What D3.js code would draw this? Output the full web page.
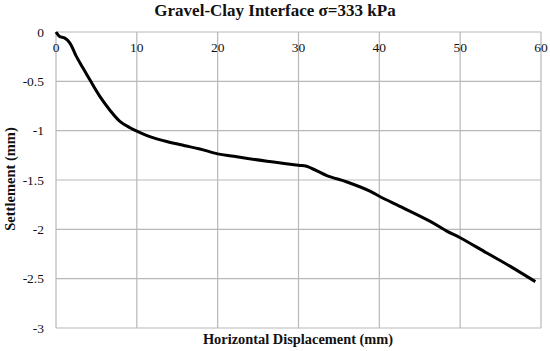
<!DOCTYPE html>
<html>
<head>
<meta charset="utf-8">
<script src="https://cdn.jsdelivr.net/npm/d3@7"></script>
<style>
  body { margin: 0; background: #fff; }
  text { font-family: "Liberation Serif", "Times New Roman", serif; fill: #111; }
</style>
</head>
<body>
<div id="viz"></div>
<script>
// chart size
const width = 550
const height = 351
const margin = {left: 56, top: 32, right: 9, bottom: 23}

const g_width = width - margin.left - margin.right;
const g_height = height - margin.top - margin.bottom;

// data
const dispX = [0, 0.45, 1.05, 1.7, 2.5, 3.3, 4.15, 5.4, 6.65, 7.9, 9.15, 10, 11.6, 13.7, 15.8, 17.8, 20,
               22, 26.1, 30, 31, 33.5, 36, 38.9, 40, 43, 46.3, 48.4, 50, 53.3, 56.2, 59.3];
const settleY = [0, -0.045, -0.06, -0.11, -0.245, -0.36, -0.48, -0.65, -0.79, -0.905, -0.97, -1.005, -1.06, -1.11, -1.15, -1.185, -1.235,
                 -1.26, -1.31, -1.35, -1.36, -1.455, -1.52, -1.615, -1.665, -1.785, -1.92, -2.02, -2.085, -2.24, -2.375, -2.53];
const xTicks = [0, 10, 20, 30, 40, 50, 60];
const yTicks = [0, -0.5, -1, -1.5, -2, -2.5, -3];

const data = dispX.map((d, i) => ({x: d, y: settleY[i]}));

var svg = d3.select("#viz")
        .append("svg")
        .attr("width", width)
        .attr("height", height);

var g = svg.append("g")
        .attr("transform", "translate(" + margin.left + "," + margin.top + ")");

const x = d3.scaleLinear().domain([0, 60]).range([0, g_width]);
const y = d3.scaleLinear().domain([-3, 0]).range([g_height, 0]);

// gridlines
g.append("g")
    .selectAll("line")
    .data(yTicks)
    .enter()
    .append("line")
    .attr("x1", 0).attr("x2", g_width)
    .attr("y1", d => y(d)).attr("y2", d => y(d))
    .attr("stroke", "#b8b8b8").attr("stroke-width", 1.2);

g.append("g")
    .selectAll("line")
    .data(xTicks)
    .enter()
    .append("line")
    .attr("x1", d => x(d)).attr("x2", d => x(d))
    .attr("y1", 0).attr("y2", g_height)
    .attr("stroke", "#b8b8b8").attr("stroke-width", 1.2);

// x tick labels sit under the zero line
g.append("g")
    .selectAll("text")
    .data(xTicks)
    .enter()
    .append("text")
    .attr("x", d => x(d))
    .attr("y", 20)
    .attr("text-anchor", "middle")
    .attr("font-size", 13.5)
    .text(d => d);

// y tick labels
g.append("g")
    .selectAll("text")
    .data(yTicks)
    .enter()
    .append("text")
    .attr("x", -12)
    .attr("y", d => y(d))
    .attr("dy", "0.35em")
    .attr("text-anchor", "end")
    .attr("font-size", 13.5)
    .text(d => d);

// the curve
g.append("path")
    .datum(data)
    .attr("d", d3.line()
        .x(d => x(d.x))
        .y(d => y(d.y))
        .curve(d3.curveCatmullRom.alpha(0.5)))
    .attr("fill", "none")
    .attr("stroke", "#000")
    .attr("stroke-width", 3)
    .attr("stroke-linejoin", "round");

// title
svg.append("text")
    .attr("x", 275)
    .attr("y", 16)
    .attr("text-anchor", "middle")
    .attr("font-size", 17)
    .attr("font-weight", "bold")
    .text("Gravel-Clay Interface σ=333 kPa");

// axis labels
svg.append("text")
    .attr("x", 298)
    .attr("y", 344)
    .attr("text-anchor", "middle")
    .attr("font-size", 14.4)
    .attr("font-weight", "bold")
    .text("Horizontal Displacement (mm)");

svg.append("text")
    .attr("transform", "translate(14.5," + 179 + ") rotate(-90)")
    .attr("text-anchor", "middle")
    .attr("font-size", 14.5)
    .attr("font-weight", "bold")
    .text("Settlement (mm)");
</script>
</body>
</html>
